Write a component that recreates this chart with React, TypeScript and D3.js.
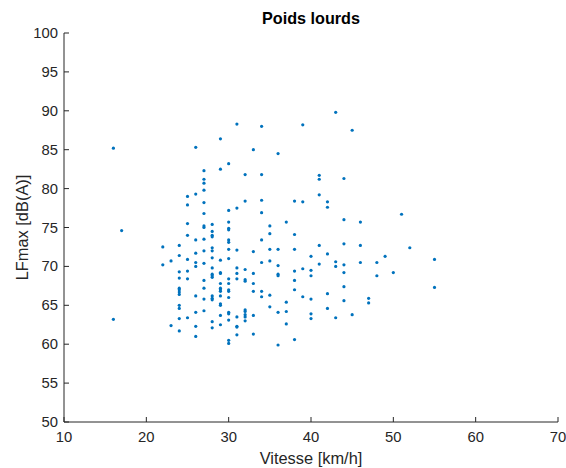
import React from "react";
import * as d3 from "d3";

const title = "Poids lourds";
const xLabel = "Vitesse [km/h]";
const yLabel = "LFmax [dB(A)]";
const xTicks = [10, 20, 30, 40, 50, 60, 70];
const yTicks = [50, 55, 60, 65, 70, 75, 80, 85, 90, 95, 100];

// speed (km/h) -> list of LFmax values measured at that speed
const speeds = [16, 17, 22, 23, 24, 25, 26, 27, 28, 29, 30, 31, 32, 33, 34, 35, 36, 37, 38, 39, 40, 41, 42, 43, 44, 45, 46, 47, 48, 49, 50, 51, 52, 55];
const levels: number[][] = [
  [85.2, 63.2],
  [74.6],
  [72.5, 70.2],
  [70.7, 62.4],
  [72.7, 71.4, 69.3, 68.5, 67.2, 67.0, 66.7, 66.4, 65.0, 64.6, 63.3, 61.7],
  [79.0, 77.9, 75.5, 74.0, 70.9, 69.4, 68.4, 63.4],
  [85.3, 79.3, 73.4, 71.7, 70.5, 70.0, 66.2, 64.1, 62.3, 61.0],
  [82.3, 81.2, 80.7, 79.8, 78.2, 76.8, 75.2, 75.0, 73.5, 72.0, 70.4, 68.2, 67.2, 65.8, 64.3],
  [75.4, 74.5, 74.0, 73.8, 72.4, 72.0, 71.1, 69.8, 69.0, 68.8, 68.6, 66.2, 65.9, 65.7, 62.9, 62.1],
  [86.4, 82.5, 70.8, 69.2, 69.1, 67.8, 67.2, 67.0, 66.8, 66.2, 65.2, 65.0, 63.7, 62.5],
  [83.2, 77.2, 75.7, 74.9, 74.7, 73.4, 73.1, 72.2, 71.0, 68.4, 67.8, 67.0, 66.8, 66.0, 64.1, 63.9, 63.1, 60.5, 60.1],
  [88.3, 77.5, 72.1, 69.8, 69.1, 68.4, 63.5, 62.3, 62.2, 61.2],
  [81.8, 78.4, 69.6, 68.3, 68.1, 64.4, 64.2, 63.8, 63.5, 63.0],
  [85.0, 71.9, 69.1, 67.8, 66.8, 63.7, 61.3],
  [88.0, 81.8, 78.5, 76.9, 73.4, 70.5, 66.8, 66.1],
  [75.2, 74.2, 72.2, 70.7, 66.3, 64.8],
  [84.5, 72.2, 70.1, 69.0, 68.8, 64.1, 59.9],
  [75.7, 65.4, 64.2, 62.6],
  [78.4, 74.1, 72.2, 69.4, 68.2, 67.0, 60.6],
  [88.2, 78.3, 69.7, 66.1],
  [71.3, 69.5, 68.8, 65.8, 63.9, 63.3],
  [81.7, 81.2, 79.2, 72.7, 70.3],
  [78.3, 77.6, 71.6, 66.5, 64.6],
  [89.8, 70.6, 70.0, 63.4],
  [81.3, 76.0, 72.9, 70.2, 69.2, 67.4, 65.6],
  [87.5, 63.8],
  [75.7, 72.7, 70.5],
  [65.9, 65.3],
  [70.5, 68.8],
  [71.3],
  [69.2],
  [76.7],
  [72.4],
  [70.9, 67.3],
];

const W = 566;
const H = 468;
const M = { left: 64, right: 8, top: 33, bottom: 46 };
const AX = "#262626";
const FONT = "Liberation Sans, Arial, Helvetica, sans-serif";

export default function App() {
  const x = d3.scaleLinear().domain([10, 70]).range([M.left, W - M.right]);
  const y = d3.scaleLinear().domain([50, 100]).range([H - M.bottom, M.top]);
  const points = speeds.flatMap((s, i) => levels[i].map((v) => ({ s, v })));
  const x0 = x(10);
  const y0 = y(50);
  const tl = 5;
  return (
    <svg width={W} height={H} style={{ position: "absolute", left: 0, top: 0, background: "#fff" }}>
      <rect width={W} height={H} fill="#fff" />
      <text x={(x0 + x(70)) / 2} y={24} textAnchor="middle" fontFamily={FONT} fontWeight="bold" fontSize={16.2} fill="#000">
        {title}
      </text>
      <line x1={x0} x2={x(70)} y1={y0} y2={y0} stroke={AX} strokeWidth={1} />
      <line x1={x0} x2={x0} y1={y(100)} y2={y0} stroke={AX} strokeWidth={1} />
      {xTicks.map((t) => (
        <g key={"x" + t}>
          <line x1={x(t)} x2={x(t)} y1={y0} y2={y0 - tl} stroke={AX} />
          <text x={x(t)} y={y0 + 20} textAnchor="middle" fontFamily={FONT} fontSize={14.8} fill={AX}>
            {t}
          </text>
        </g>
      ))}
      {yTicks.map((t) => (
        <g key={"y" + t}>
          <line x1={x0} x2={x0 + tl} y1={y(t)} y2={y(t)} stroke={AX} />
          <text x={x0 - 6} y={y(t) + 5} textAnchor="end" fontFamily={FONT} fontSize={14.8} fill={AX}>
            {t}
          </text>
        </g>
      ))}
      <text x={(x0 + x(70)) / 2} y={H - 4} textAnchor="middle" fontFamily={FONT} fontSize={16.4} fill={AX}>
        {xLabel}
      </text>
      <text
        transform={`translate(${22},${(y(100) + y0) / 2}) rotate(-90)`}
        textAnchor="middle"
        fontFamily={FONT}
        fontSize={16.4}
        fill={AX}
        dy="0.35em"
      >
        {yLabel}
      </text>
      {points.map((p, i) => (
        <circle key={i} cx={x(p.s)} cy={y(p.v)} r={1.6} fill="#0072BD" />
      ))}
    </svg>
  );
}
